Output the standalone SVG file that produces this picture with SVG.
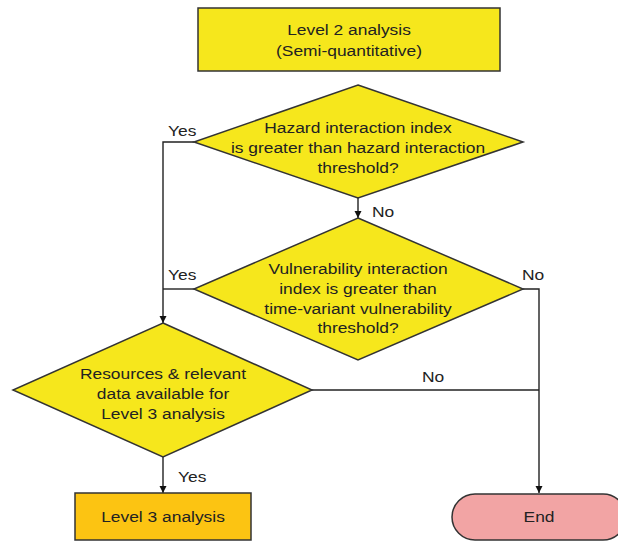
<svg xmlns="http://www.w3.org/2000/svg" width="618" height="541" viewBox="0 0 618 541">
<style>
  .shape{stroke:#333;stroke-width:1.5}
  .yellow{fill:#f6e71c}
  .orange{fill:#fcc412}
  .pink{fill:#f2a4a4}
  .t{font-family:"Liberation Sans",Arial,sans-serif;font-size:14.5px;fill:#222;text-anchor:middle}
  .lbl{font-family:"Liberation Sans",Arial,sans-serif;font-size:14.5px;fill:#222;text-anchor:start}
  .conn{fill:none;stroke:#222;stroke-width:1.4}
</style>
<defs>
  <marker id="arr" viewBox="0 0 10 10" refX="10" refY="5" markerWidth="7" markerHeight="8" markerUnits="userSpaceOnUse" orient="auto">
    <path d="M0,0 L10,5 L0,10 Z" fill="#111"/>
  </marker>
</defs>
<rect width="618" height="541" fill="#fff"/>

<g id="connectors">
  <path class="conn" d="M358,198 V218" marker-end="url(#arr)"/>
  <path class="conn" d="M194,142 H163 V323" marker-end="url(#arr)"/>
  <path class="conn" d="M194,289 H163"/>
  <path class="conn" d="M523,289 H539 V493" marker-end="url(#arr)"/>
  <path class="conn" d="M312,390 H539"/>
  <path class="conn" d="M163,457 V493" marker-end="url(#arr)"/>
  <g id="connector-labels">
    <text class="lbl" transform="translate(168,136) scale(1.2,1)">Yes</text>
    <text class="lbl" transform="translate(372,217) scale(1.2,1)">No</text>
    <text class="lbl" transform="translate(168,280) scale(1.2,1)">Yes</text>
    <text class="lbl" transform="translate(522,280) scale(1.2,1)">No</text>
    <text class="lbl" transform="translate(422,382) scale(1.2,1)">No</text>
    <text class="lbl" transform="translate(178,482) scale(1.2,1)">Yes</text>
  </g>
</g>

<g id="level2">
  <rect class="shape yellow" x="198" y="8" width="302" height="63"/>
  <text class="t" transform="translate(349,35) scale(1.2,1)">Level 2 analysis</text>
  <text class="t" transform="translate(349,56) scale(1.2,1)">(Semi-quantitative)</text>
</g>

<g id="hazard-decision">
  <polygon class="shape yellow" points="358,85 523,142 358,198 194,142"/>
  <text class="t" transform="translate(358,133) scale(1.2,1)">Hazard interaction index</text>
  <text class="t" transform="translate(358,153) scale(1.2,1)">is greater than hazard interaction</text>
  <text class="t" transform="translate(358,173) scale(1.2,1)">threshold?</text>
</g>

<g id="vulnerability-decision">
  <polygon class="shape yellow" points="358,218 523,289 358,360 194,289"/>
  <text class="t" transform="translate(358,274) scale(1.2,1)">Vulnerability interaction</text>
  <text class="t" transform="translate(358,294) scale(1.2,1)">index is greater than</text>
  <text class="t" transform="translate(358,314) scale(1.2,1)">time-variant vulnerability</text>
  <text class="t" transform="translate(358,333) scale(1.2,1)">threshold?</text>
</g>

<g id="resources-decision">
  <polygon class="shape yellow" points="163,323 312,390 163,457 13,390"/>
  <text class="t" transform="translate(163,379) scale(1.2,1)">Resources &amp; relevant</text>
  <text class="t" transform="translate(163,399) scale(1.2,1)">data available for</text>
  <text class="t" transform="translate(163,419) scale(1.2,1)">Level 3 analysis</text>
</g>

<g id="level3">
  <rect class="shape orange" x="75" y="493" width="176" height="47"/>
  <text class="t" transform="translate(163,522) scale(1.2,1)">Level 3 analysis</text>
</g>

<g id="end">
  <rect class="shape pink" x="452" y="494" width="174" height="46" rx="23" ry="23"/>
  <text class="t" transform="translate(539,522) scale(1.2,1)">End</text>
</g>
</svg>
